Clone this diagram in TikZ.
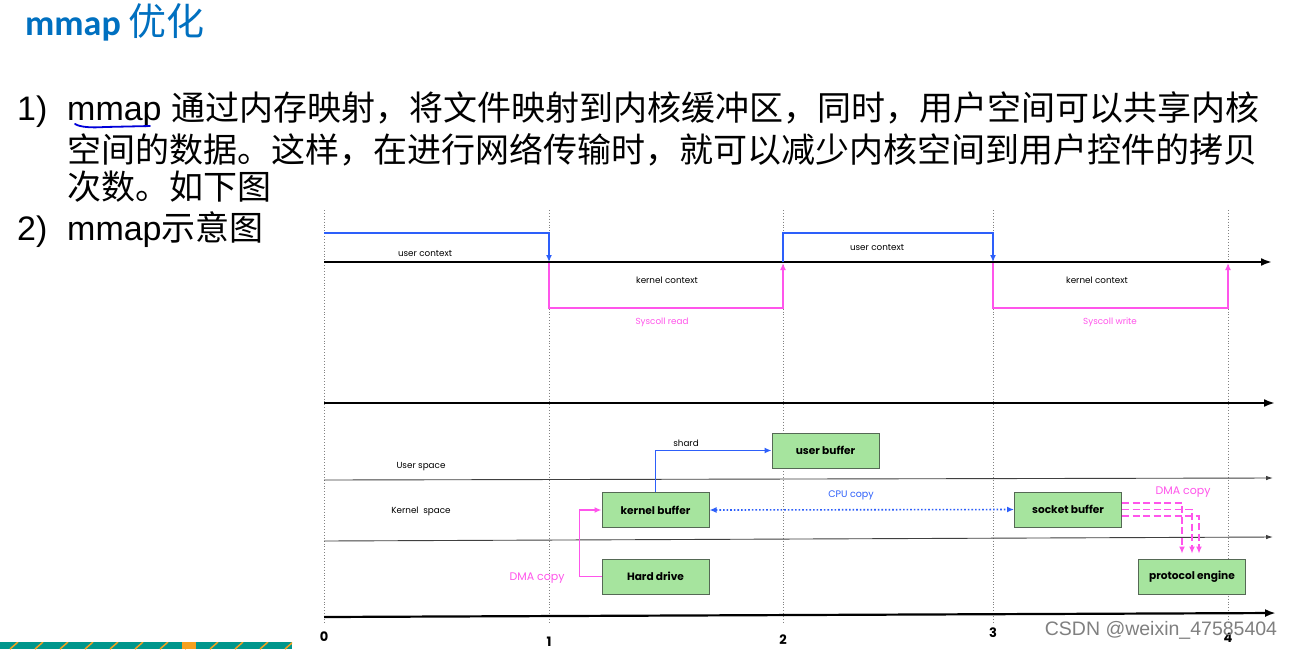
\documentclass[tikz,border=0pt]{standalone}
\usepackage{fontspec}
\setmainfont{Liberation Sans}
\newfontfamily\cjk{Noto Sans CJK SC}
\newfontfamily\titlefont{Carlito}
\newfontfamily\dia{Poppins}
\usetikzlibrary{arrows.meta}
\definecolor{ttlblue}{RGB}{0,112,192}
\definecolor{ctxblue}{RGB}{45,95,250}
\definecolor{pinkc}{RGB}{255,85,235}
\definecolor{boxgreen}{RGB}{166,228,158}
\definecolor{boxedge}{RGB}{85,105,85}
\definecolor{gridgray}{RGB}{130,130,130}
\definecolor{teal}{RGB}{0,150,140}
\definecolor{orng}{RGB}{245,160,30}
\tikzset{
  gridline/.style={draw=gridgray, dotted, line width=0.9pt},
  mainaxis/.style={draw=black, line width=2.2pt, -{Latex[length=11pt,width=8pt]}},
  thinaxis/.style={draw=black!75, line width=0.9pt, -{Latex[length=7pt,width=4.5pt]}},
  ctxline/.style={draw=ctxblue, line width=1.6pt},
  pinkline/.style={draw=pinkc, line width=1.4pt},
  tip/.style={-{Latex[length=7pt,width=6pt]}},
  box/.style={draw=boxedge, fill=boxgreen, line width=1pt, minimum width=107pt, minimum height=35pt, inner sep=0pt, font=\dia\bfseries\fontsize{10.6}{12}\selectfont},
  small/.style={inner sep=0pt, font=\dia\fontsize{8.8}{10}\selectfont},
  axlbl/.style={inner sep=0pt, font=\dia\bfseries\fontsize{13}{14}\selectfont},
  body/.style={inner sep=0pt, anchor=base west, font=\fontsize{34}{40}\selectfont},
}
\begin{document}
\begin{tikzpicture}[x=1pt,y=-1pt]
\useasboundingbox[fill=white] (0,0) rectangle (1293,649);

% title
\node[inner sep=0pt, anchor=base west, text=ttlblue] (title) at (25,35)
  {\titlefont\bfseries\fontsize{36}{40}\selectfont mmap {\cjk\mdseries\fontsize{38}{40}\selectfont 优化}};

% body text
\node[body] (n1) at (17,120) {1)};
\node[body] (l1) at (67,120) {mmap {\cjk 通过内存映射，将文件映射到内核缓冲区，同时，用户空间可以共享内核}};
\node[body] (l2) at (67,162) {\cjk 空间的数据。这样，在进行网络传输时，就可以减少内核空间到用户控件的拷贝};
\node[body] (l3) at (67,199) {\cjk 次数。如下图};
\node[body] (n2) at (17,240) {2)};
\node[body] (l4) at (67,240) {mmap{\cjk 示意图}};
\draw[draw=blue!85!black, line width=1.8pt, line cap=round] (75,124) .. controls (80,127) and (90,128) .. (105,127) -- (150,126);

% grid coordinates
\foreach \i/\x in {0/324,1/549,2/783,3/993,4/1228}{
  \coordinate (g\i t) at (\x,210);
  \coordinate (g\i b) at (\x,624);
  \draw[gridline] (g\i t) -- (g\i b);
}

% top timeline
\coordinate (a1s) at (324,262); \coordinate (a1e) at (1272,262);
\draw[mainaxis] (a1s) -- (a1e);
\coordinate (u0) at (324,233);
\draw[ctxline, tip] (u0) -- (549,233) -- (549,262);
\draw[pinkline, tip] (549,263) -- (549,308) -- (783,308) -- (783,263);
\draw[ctxline, tip] (783,262) -- (783,233) -- (993,233) -- (993,262);
\draw[pinkline, tip] (993,263) -- (993,308) -- (1228,308) -- (1228,263);
\node[small] (uc1) at (425,254) {user context};
\node[small] (kc1) at (667,280) {kernel context};
\node[small, text=pinkc] (sr) at (662,322) {Syscoll read};
\node[small] (uc2) at (877,248) {user context};
\node[small] (kc2) at (1097,280) {kernel context};
\node[small, text=pinkc] (sw) at (1110,322) {Syscoll write};

% lower part
\coordinate (a2s) at (324,403); \coordinate (a2e) at (1275,403);
\draw[mainaxis] (a2s) -- (a2e);
\coordinate (h1s) at (324,480); \coordinate (h1e) at (1273,478);
\draw[thinaxis] (h1s) -- (h1e);
\coordinate (h2s) at (324,541); \coordinate (h2e) at (1273,537);
\draw[thinaxis] (h2s) -- (h2e);
\coordinate (a3s) at (324,617); \coordinate (a3e) at (1276,613);
\draw[mainaxis] (a3s) -- (a3e);

\node[small] (us) at (421,467) {User space};
\node[small] (ks) at (421,511) {Kernel\ \ space};

\node[box] (kb) at (655.5,510) {kernel buffer};
\node[box] (hd) at (655.5,576.5) {Hard drive};
\node[box] (ub) at (825.5,450.5) {user buffer};
\node[box] (sb) at (1068,509.5) {socket buffer};
\node[box] (pe) at (1192,576.5) {protocol engine};

\draw[ctxline, tip] (kb.north) |- (ub.west);
\node[small] (shard) at (686,443) {shard};

\draw[pinkline, tip] (hd.west) -- ++(-22,0) |- (kb.west);
\node[inner sep=0pt, text=pinkc, font=\dia\fontsize{11}{12}\selectfont] (dma1) at (537,578) {DMA copy};

\draw[draw=ctxblue, line width=1.6pt, dotted, {Latex[length=7pt,width=6pt]}-{Latex[length=7pt,width=6pt]}] (kb.east) -- (sb.west);
\node[inner sep=0pt, text=ctxblue, font=\dia\fontsize{9.5}{11}\selectfont] (cpu) at (851,495) {CPU copy};

\tikzset{dmadash/.style={pinkline, line width=1.3pt, dash pattern=on 7pt off 3.5pt}}
\draw[dmadash, tip, shorten >=5pt] ([yshift=-6.5pt]sb.east) -| ([xshift=7pt]pe.north);
\draw[dmadash, tip, shorten >=5pt] (sb.east) -| (pe.north);
\draw[dmadash, tip, shorten >=5pt] ([yshift=6.5pt]sb.east) -| ([xshift=-10pt]pe.north);
\node[inner sep=0pt, text=pinkc, font=\dia\fontsize{11}{12}\selectfont] (dma2) at (1183,492) {DMA copy};

% axis numbers
\node[axlbl] (x0) at (324,637) {0};
\node[axlbl] (x1) at (549,642) {1};
\node[axlbl] (x2) at (783,640) {2};
\node[axlbl] (x3) at (993,633) {3};
\node[axlbl] (x4) at (1228,638) {4};

% watermark
\node[inner sep=0pt, text=black!50, font=\fontsize{19.5}{22}\selectfont] (wm) at (1161,630) {CSDN @weixin\_47585404};

% decorative stripe
\begin{scope}
\clip (0,642) rectangle (292,649);
\fill[teal] (0,642) rectangle (292,649);
\foreach \x in {10,35,...,290}{
  \draw[orng, line width=1.5pt] (\x,649) -- (\x+8,642);
}
\fill[orng] (182,642) rectangle (196,649);
\end{scope}
\end{tikzpicture}
\end{document}
